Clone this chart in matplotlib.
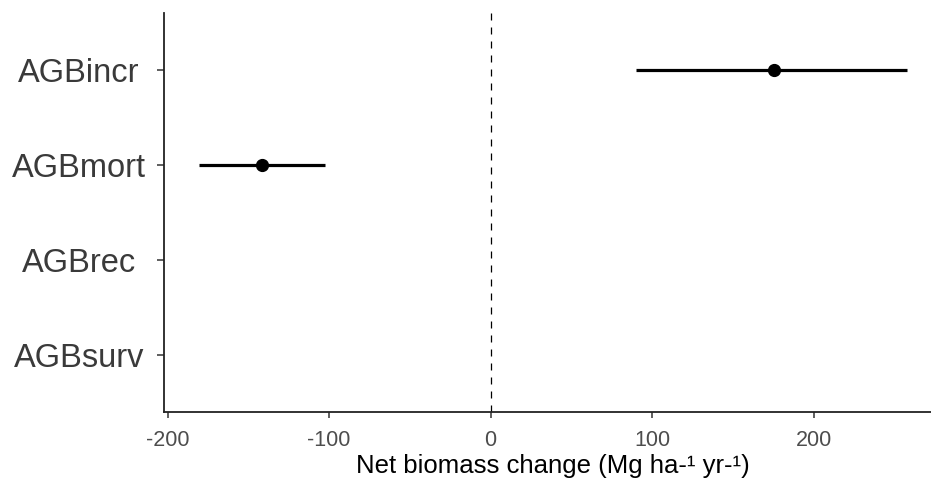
import numpy as np
import matplotlib
matplotlib.use("Agg")
import matplotlib.pyplot as plt

plt.rcParams['font.family'] = ['Liberation Sans', 'DejaVu Sans']

# estimates and confidence limits (Mg ha-1 yr-1)
terms = ['AGBincr', 'AGBmort', 'AGBrec', 'AGBsurv']
estimate = [175.3, -141.7, np.nan, np.nan]
lower = [89.8, -180.4, np.nan, np.nan]
upper = [258.0, -102.5, np.nan, np.nan]
xticks = [-200, -100, 0, 100, 200]

est = np.array(estimate)
lo = np.array(lower)
hi = np.array(upper)
ypos = np.arange(len(terms))

fig = plt.figure(figsize=(9.31, 4.84), dpi=100)
ax = fig.add_axes([163.9 / 931, 72 / 484, 778.7 / 931, 399 / 484])

ax.axvline(0, color='black', lw=0.9, dashes=(5.6, 5.6))
ax.hlines(ypos, lo, hi, color='black', lw=2.3)
ax.plot(est, ypos, 'o', color='black', ms=8.5)

# ggplot-like 5% expansion on x, 0.6 on discrete y
span = np.nanmax(hi) - np.nanmin(lo)
ax.set_xlim(np.nanmin(lo) - 0.05 * span, np.nanmax(hi) + 0.05 * span)
ax.set_ylim(len(terms) - 1 + 0.6, -0.6)

ax.set_xticks(xticks)
ax.set_xticklabels([str(t) for t in xticks])
ax.set_yticks(ypos)
ax.set_yticklabels(terms)

for s in ['top', 'right']:
    ax.spines[s].set_visible(False)
for s in ['left', 'bottom']:
    ax.spines[s].set_linewidth(1.3)
    ax.spines[s].set_color('#222222')

ax.tick_params(axis='x', length=4, width=1.1, color='#333333',
               labelsize=15.5, labelcolor='#4D4D4D', pad=9)
ax.tick_params(axis='y', length=5, width=1.1, color='#333333',
               labelsize=23.5, labelcolor='#3A3A3A', pad=56)
for lab in ax.get_yticklabels():
    lab.set_horizontalalignment('center')

ax.set_xlabel('Net biomass change (Mg ha-\u00b9 yr-\u00b9)', fontsize=18.5,
              color='black', labelpad=2)

fig.savefig('out.png', dpi=100)
